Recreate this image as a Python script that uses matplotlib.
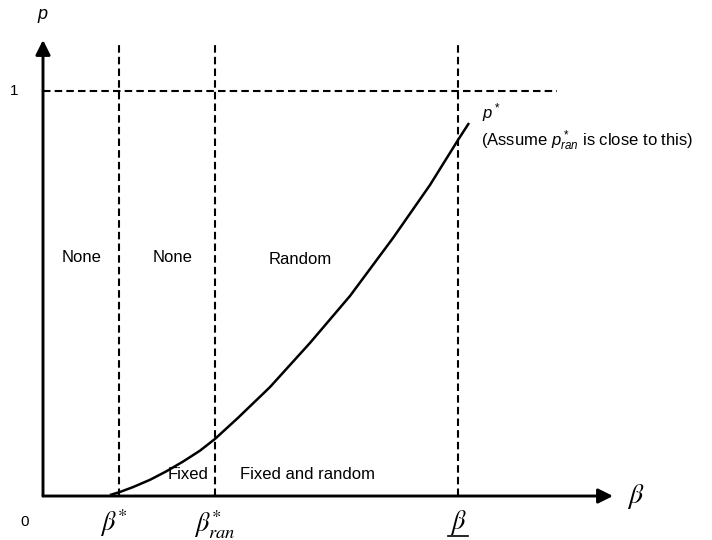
import matplotlib
matplotlib.use("Agg")
import matplotlib.pyplot as plt

plt.rcParams["font.family"] = ["Liberation Sans", "DejaVu Sans"]
plt.rcParams["mathtext.fontset"] = "custom"
plt.rcParams["mathtext.rm"] = "Liberation Sans"
plt.rcParams["mathtext.it"] = "Liberation Sans:italic"

# thresholds on the beta axis
beta_star = 0.76
beta_ran = 1.72
beta_under = 4.15
beta_max = 5.70
p_line_end = 5.14
p_top = 1.114

# p* curve
curve_beta = [0.67, 0.77, 0.90, 1.07, 1.23, 1.40, 1.57, 1.72, 1.95, 2.27,
              2.67, 3.07, 3.50, 3.87, 4.15, 4.26]
curve_p = [0.0025, 0.010, 0.022, 0.040, 0.0605, 0.085, 0.112, 0.141, 0.193, 0.269,
           0.378, 0.494, 0.637, 0.768, 0.879, 0.921]

region_labels = [("None", 0.39, 0.588), ("None", 1.30, 0.588), ("Random", 2.57, 0.583)]
bottom_labels = [("Fixed", 1.45, 0.052), ("Fixed and random", 2.65, 0.052)]

fig = plt.figure(figsize=(7.12, 5.40), dpi=100)
ax = fig.add_axes([0, 0, 1, 1])
ax.set_xlim(-0.43, 6.69)
ax.set_ylim(-0.1086, 1.2247)
ax.axis("off")

# axes with arrows
arrow = dict(arrowstyle="-|>", lw=2.1, color="black", mutation_scale=22,
             shrinkA=0, shrinkB=0)
ax.annotate("", xy=(beta_max, 0), xytext=(0, 0), arrowprops=arrow)
ax.annotate("", xy=(0, 1.126), xytext=(0, 0), arrowprops=arrow)

dash = dict(color="black", lw=1.5, linestyle=(0, (3.6, 2.0)))
ax.plot([0, p_line_end], [1, 1], **dash)
for b in [beta_star, beta_ran, beta_under]:
    ax.plot([b, b], [0, p_top], **dash)

ax.plot(curve_beta, curve_p, color="black", lw=1.8, solid_capstyle="butt",
        solid_joinstyle="round")

for txt, x, y in region_labels + bottom_labels:
    ax.text(x, y, txt, fontsize=12, ha="center", va="center")

ax.text(-0.01, 1.19, "p", fontsize=13, style="italic", ha="center", va="center")
ax.text(-0.29, 1.0, "1", fontsize=11, ha="center", va="center")
ax.text(-0.18, -0.064, "0", fontsize=11, ha="center", va="center")

ax.text(4.39, 0.948, r"$p^*$", fontsize=12, ha="left", va="center")
ax.text(4.38, 0.878, r"(Assume $p^*_{ran}$ is close to this)", fontsize=12,
        ha="left", va="center")

# beta labels
ax.text(5.93, 0.0, r"$\beta$", fontsize=20, ha="center", va="center",
        math_fontfamily="stix")
ax.text(beta_star - 0.05, -0.068, r"$\beta^{*}$", fontsize=19, ha="center",
        va="center", math_fontfamily="stix")
ax.text(beta_ran, -0.07, r"$\beta^{*}_{ran}$", fontsize=19, ha="center",
        va="center", math_fontfamily="stix")
ax.text(beta_under, -0.066, r"$\beta$", fontsize=19, ha="center", va="center",
        math_fontfamily="stix")
ax.plot([beta_under - 0.10, beta_under + 0.10], [-0.098, -0.098],
        color="black", lw=1.2)

fig.savefig("out.png", dpi=100)
